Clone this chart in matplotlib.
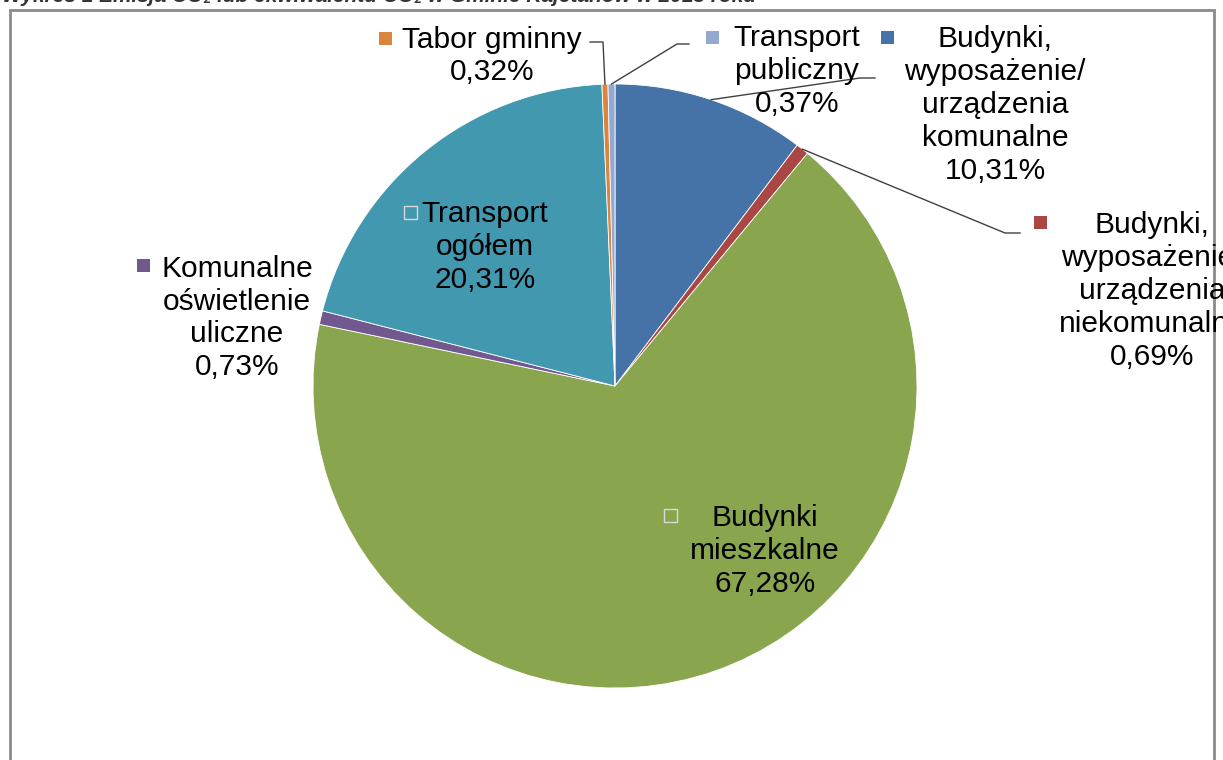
import matplotlib.pyplot as plt
import numpy as np
from matplotlib.patches import Rectangle

# Dane: emisja CO2 wg sektorów (%)
labels = ['Budynki,\nwyposażenie/\nurządzenia\nkomunalne',
          'Budynki,\nwyposażenie/\nurządzenia\nniekomunalne',
          'Budynki\nmieszkalne',
          'Komunalne\noświetlenie\nuliczne',
          'Transport\nogółem',
          'Tabor gminny',
          'Transport\npubliczny']
values = [10.31, 0.69, 67.28, 0.73, 20.31, 0.32, 0.37]
colors = ['#4572A7', '#AA4643', '#89A54E', '#71588F', '#4198AF', '#DB843D', '#93A9CF']

plt.rcParams['font.family'] = ['Liberation Sans', 'DejaVu Sans']

W, H = 1223, 760
fig = plt.figure(figsize=(W / 100, H / 100), dpi=100)
ax = fig.add_axes([0, 0, 1, 1])

cx, cy, R = 615, H - 386, 302

ax.pie(values, colors=colors, startangle=90, counterclock=False,
       center=(cx, cy), radius=R, frame=True,
       wedgeprops=dict(edgecolor='white', linewidth=0.6))
ax.set_xlim(0, W)
ax.set_ylim(0, H)
ax.set_aspect('equal')
ax.axis('off')

# ramka wykresu (dół poza obrazkiem)
frame = Rectangle((10, -20), 1204, H - 10 + 20, fill=False,
                  edgecolor='#8a8a8a', linewidth=2)
ax.add_patch(frame)

# tytuł (obcięty u góry, jak w oryginale)
ax.text(2, H - 2, 'Wykres 1 Emisja CO\u2082 lub ekwiwalentu CO\u2082 w Gminie Kajetanów w 2013 roku',
        fontsize=15, fontweight='bold', fontstyle='italic', va='baseline', ha='left',
        color='#333333')

# środki kątowe wycinków - do linii odniesienia
cum = np.cumsum([0] + values[:-1])
mids = 90 - 360 * (cum + np.array(values) / 2) / sum(values)

def edge_point(i):
    a = np.deg2rad(mids[i])
    return cx + R * np.cos(a), cy + R * np.sin(a)

def pct(v):
    return f'{v:.2f}'.replace('.', ',') + '%'

# pozycje etykiet (x, y środka tekstu w pikselach od góry) oraz znacznika
label_pos = [
    (995, 105, 887, 37, False),
    (1152, 291, 1040, 222, False),
    (765, 551, 670, 515, True),
    (237, 318, 143, 265, False),
    (485, 247, 410, 212, True),
    (492, 56, 385, 38, False),
    (797, 71, 712, 37, False),
]

for i, (tx, ty, mx, my, inside) in enumerate(label_pos):
    t = ax.text(tx, H - ty, labels[i] + '\n' + pct(values[i]), ha='center', va='center',
                fontsize=21.5, linespacing=1.22, color='black')
    t.set_clip_path(frame)
    s = 13
    if inside:
        sq = Rectangle((mx - s / 2, H - my - s / 2), s, s, facecolor=colors[i],
                       edgecolor='#d9d9d9', linewidth=1)
    else:
        sq = Rectangle((mx - s / 2, H - my - s / 2), s, s, facecolor=colors[i],
                       edgecolor='none')
    ax.add_patch(sq)

# linie odniesienia
lc = '#404040'
px, py = edge_point(5)
ax.plot([590, 603, px], [H - 42, H - 42, py], color=lc, lw=1)
px, py = edge_point(6)
ax.plot([689, 677, px], [H - 44, H - 44, py], color=lc, lw=1)
px, py = edge_point(0)
ax.plot([875, 860, px], [H - 78, H - 78, py], color=lc, lw=1)
px, py = edge_point(1)
ax.plot([1020, 1005, px], [H - 233, H - 233, py], color=lc, lw=1)

fig.savefig('out.png', dpi=100)
